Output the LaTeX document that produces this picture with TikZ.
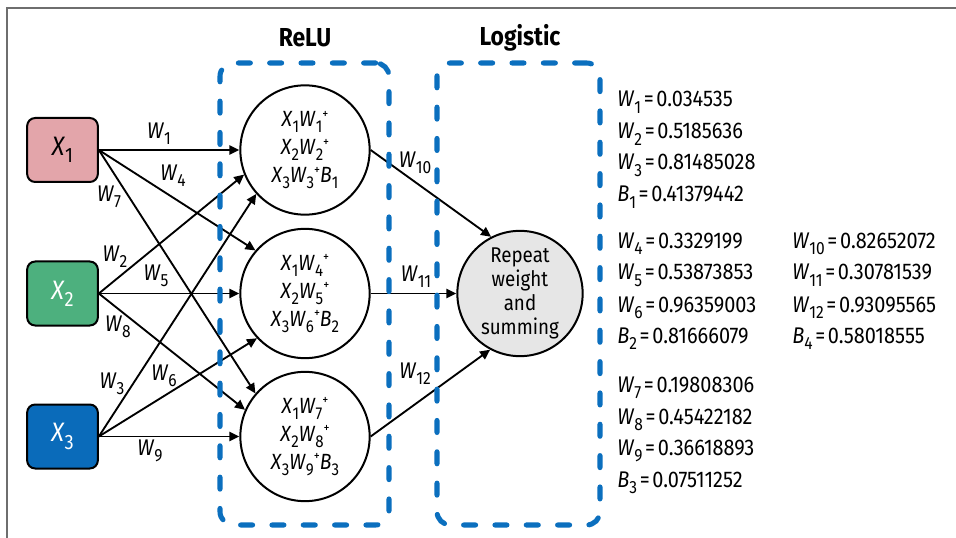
\documentclass[tikz,border=0pt]{standalone}
\usepackage{fontspec}
\setmainfont{Fira Sans}[FakeStretch=0.88]
\usetikzlibrary{arrows.meta}
\definecolor{pinkbox}{HTML}{E3A5AA}
\definecolor{greenbox}{HTML}{4DB07E}
\definecolor{bluebox}{HTML}{0A6BBA}
\definecolor{dashblue}{HTML}{0B6FBE}
\definecolor{outgray}{HTML}{E6E6E6}
\definecolor{framegray}{HTML}{6E6E6E}
\makeatletter
\newcommand\sbx[2]{\textit{#1}\raisebox{-0.27em}{\fontsize{\fpeval{0.78*\f@size}}{0}\selectfont #2}}
\newcommand\pls{\raisebox{0.38em}{\fontsize{\fpeval{0.62*\f@size}}{0}\selectfont +}}
\makeatother
\newcommand\eqs{\hspace{0.12em}=\hspace{0.12em}}
\begin{document}
\begin{tikzpicture}[x=0.75pt,y=-0.75pt,
 inbox/.style={draw, line width=1.5pt, rounded corners=6pt, minimum width=53pt, minimum height=48pt, font=\fontsize{20}{22}\selectfont},
 neuron/.style={draw, circle, line width=1.5pt, minimum size=97pt, inner sep=0pt, align=center, font=\fontsize{16.5}{21}\selectfont},
 groupbox/.style={draw=dashblue, line width=3.8pt, dash pattern=on 9pt off 14.5pt, line cap=round, rounded corners=10pt, minimum height=346.5pt, inner sep=0pt},
 conn/.style={line width=1.4pt, -{Triangle[length=7.5pt,width=7pt]}},
 wlab/.style={inner sep=0pt, font=\fontsize{17}{18}\selectfont},
 grouptitle/.style={inner sep=0pt, font=\bfseries\fontsize{19.5}{22}\selectfont},
 val/.style={anchor=base west, inner sep=0pt, font=\fontsize{17}{18}\selectfont}]
\useasboundingbox (0,0) rectangle (956,538);
\draw[framegray, line width=1.5pt] (6.5,538) -- (6.5,8.5) -- (956,8.5);

% inputs
\node[inbox, fill=pinkbox] (x1) at (62.5,150) {\sbx{X}{1}};
\node[inbox, fill=greenbox, text=white] (x2) at (62.5,293.5) {\sbx{X}{2}};
\node[inbox, fill=bluebox, text=white] (x3) at (62.5,436.5) {\sbx{X}{3}};

% hidden
\node[neuron] (h1) at (305,150) {\sbx{X}{1}\sbx{W}{1}\pls\\\sbx{X}{2}\sbx{W}{2}\pls\\\sbx{X}{3}\sbx{W}{3}\pls\sbx{B}{1}};
\node[neuron] (h2) at (305,293.5) {\sbx{X}{1}\sbx{W}{4}\pls\\\sbx{X}{2}\sbx{W}{5}\pls\\\sbx{X}{3}\sbx{W}{6}\pls\sbx{B}{2}};
\node[neuron] (h3) at (305,436.5) {\sbx{X}{1}\sbx{W}{7}\pls\\\sbx{X}{2}\sbx{W}{8}\pls\\\sbx{X}{3}\sbx{W}{9}\pls\sbx{B}{3}};

% output
\node[neuron, fill=outgray, minimum size=94pt, font=\fontsize{16}{18}\selectfont] (out) at (520,293.5) {Repeat\\weight\\and\\summing};

% connectors
\draw[conn] (x1.east) -- (h1.west);
\draw[conn] (x1.east) -- (h2.139);
\draw[conn] (x1.east) -- (h3.139);
\draw[conn] (x2.east) -- (h1.202);
\draw[conn] (x2.east) -- (h2.west);
\draw[conn] (x2.east) -- (h3.156);
\draw[conn] (x3.east) -- (h1.222);
\draw[conn] (x3.east) -- (h2.223);
\draw[conn] (x3.east) -- (h3.west);
\draw[conn] (h1.east) -- (out.117);
\draw[conn] (h2.east) -- (out.west);
\draw[conn] (h3.east) -- (out.242);

% group boxes
\node[groupbox, minimum width=126.75pt] (relu) at (304.5,294) {};
\node[groupbox, minimum width=122.25pt] (logi) at (518.5,294) {};
\node[grouptitle] (tr) at (305,38) {ReLU};
\node[grouptitle] (tl) at (520,38) {Logistic};

% weight labels
\node[wlab] (lw1) at (159,134) {\sbx{W}{1}};
\node[wlab] (lw4) at (173,176) {\sbx{W}{4}};
\node[wlab] (lw7) at (109,197) {\sbx{W}{7}};
\node[wlab] (lw2) at (115,257) {\sbx{W}{2}};
\node[wlab] (lw5) at (156,276) {\sbx{W}{5}};
\node[wlab] (lw8) at (118,327) {\sbx{W}{8}};
\node[wlab] (lw3) at (112,384) {\sbx{W}{3}};
\node[wlab] (lw6) at (164,376) {\sbx{W}{6}};
\node[wlab] (lw9) at (150,451) {\sbx{W}{9}};
\node[wlab] (lw10) at (415,163) {\sbx{W}{10}};
\node[wlab] (lw11) at (416,277) {\sbx{W}{11}};
\node[wlab] (lw12) at (415,374) {\sbx{W}{12}};

% values
\node[val] (v1) at (617,107) {\sbx{W}{1}\eqs0.034535};
\node[val] (v2) at (617,139) {\sbx{W}{2}\eqs0.5185636};
\node[val] (v3) at (617,170) {\sbx{W}{3}\eqs0.81485028};
\node[val] (v4) at (617,202) {\sbx{B}{1}\eqs0.41379442};
\node[val] (v5) at (617,248) {\sbx{W}{4}\eqs0.3329199};
\node[val] (v6) at (617,280) {\sbx{W}{5}\eqs0.53873853};
\node[val] (v7) at (617,312) {\sbx{W}{6}\eqs0.96359003};
\node[val] (v8) at (617,343) {\sbx{B}{2}\eqs0.81666079};
\node[val] (v9) at (617,392) {\sbx{W}{7}\eqs0.19808306};
\node[val] (v10) at (617,424) {\sbx{W}{8}\eqs0.45422182};
\node[val] (v11) at (617,455) {\sbx{W}{9}\eqs0.36618893};
\node[val] (v12) at (617,487) {\sbx{B}{3}\eqs0.07511252};
\node[val] (v13) at (792,248) {\sbx{W}{10}\eqs0.82652072};
\node[val] (v14) at (792,280) {\sbx{W}{11}\eqs0.30781539};
\node[val] (v15) at (792,312) {\sbx{W}{12}\eqs0.93095565};
\node[val] (v16) at (792,343) {\sbx{B}{4}\eqs0.58018555};
\end{tikzpicture}
\end{document}
